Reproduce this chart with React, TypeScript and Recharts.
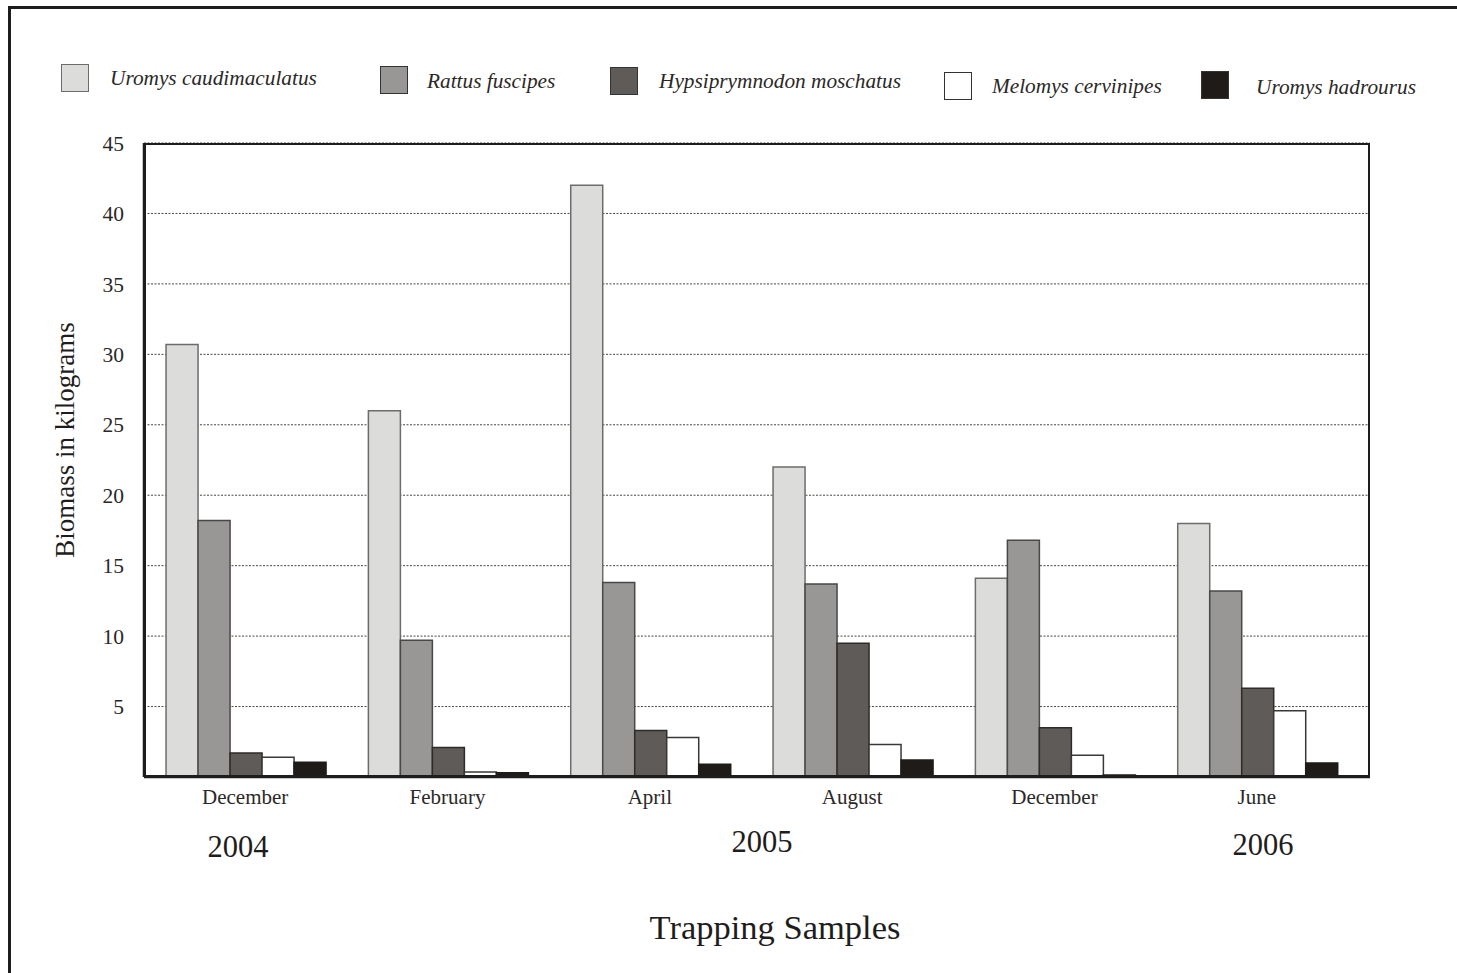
import { Bar, BarChart, CartesianGrid, Legend, XAxis, YAxis } from "recharts";

const months = ["December", "February", "April", "August", "December", "June"];
const uromysCaudimaculatus = [30.7, 26.0, 42.0, 22.0, 14.1, 18.0];
const rattusFuscipes = [18.2, 9.7, 13.8, 13.7, 16.8, 13.2];
const hypsiprymnodonMoschatus = [1.7, 2.1, 3.3, 9.5, 3.5, 6.3];
const melomysCervinipes = [1.4, 0.35, 2.8, 2.3, 1.55, 4.7];
const uromysHadrourus = [1.05, 0.3, 0.9, 1.2, 0.15, 1.0];
const yTicks = [5, 10, 15, 20, 25, 30, 35, 40, 45];
const years = ["2004", "2005", "2006"];

const seriesList = [
  { key: "uc", name: "Uromys caudimaculatus", values: uromysCaudimaculatus, fill: "#dcdcdb", stroke: "#6e6c6a" },
  { key: "rf", name: "Rattus fuscipes", values: rattusFuscipes, fill: "#989796", stroke: "#4a4846" },
  { key: "hm", name: "Hypsiprymnodon moschatus", values: hypsiprymnodonMoschatus, fill: "#5f5b59", stroke: "#2e2b29" },
  { key: "mc", name: "Melomys cervinipes", values: melomysCervinipes, fill: "#ffffff", stroke: "#3a3836" },
  { key: "uh", name: "Uromys hadrourus", values: uromysHadrourus, fill: "#1f1b19", stroke: "#1f1b19" }
];

const data = months.map((month, i) => {
  const row: Record<string, string | number> = { month };
  seriesList.forEach((s) => {
    row[s.key] = s.values[i];
  });
  return row;
});

// legend placement copied from the figure (squares are staggered)
const legendSpots = [
  { box: [61, 64], text: [110, 78] },
  { box: [380, 66], text: [427, 81] },
  { box: [610, 67], text: [659, 81] },
  { box: [944, 72], text: [992, 86] },
  { box: [1201, 71], text: [1256, 87] }
];

const yearSpots = [
  { x: 238, y: 847 },
  { x: 762, y: 842 },
  { x: 1263, y: 845 }
];

const serif = '"Liberation Serif", "Times New Roman", serif';

function StaggeredLegend() {
  // zero height so the chart does not reserve room for it
  return (
    <div style={{ position: "relative", width: 1457, height: 0, overflow: "visible" }}>
      {seriesList.map((s, i) => (
        <div key={s.key}>
          <div
            style={{
              position: "absolute",
              left: legendSpots[i].box[0],
              top: legendSpots[i].box[1],
              width: 26,
              height: 26,
              background: s.fill,
              border: `1.5px solid ${s.key === "uc" ? "#6e6c6a" : "#333"}`
            }}
          />
          <div
            style={{
              position: "absolute",
              left: legendSpots[i].text[0],
              top: legendSpots[i].text[1] - 13,
              fontFamily: serif,
              fontStyle: "italic",
              fontSize: 21.3,
              color: "#2a2826",
              whiteSpace: "nowrap",
              lineHeight: "26px"
            }}
          >
            {s.name}
          </div>
        </div>
      ))}
    </div>
  );
}

export default function App() {
  return (
    <div
      style={{
        position: "absolute",
        left: 0,
        top: 0,
        width: 1457,
        height: 973,
        background: "#fff",
        overflow: "hidden",
        fontFamily: serif
      }}
    >
      <div
        style={{
          position: "absolute",
          left: 8,
          top: 6,
          width: 1460,
          height: 980,
          borderLeft: "3px solid #1f1d1b",
          borderTop: "3px solid #1f1d1b"
        }}
      />
      <BarChart
        width={1457}
        height={973}
        data={data}
        margin={{ top: 143, right: 87, bottom: 166, left: 84 }}
        barCategoryGap="10.9%"
        barGap={0}
      >
        <CartesianGrid vertical={false} stroke="#4a4846" strokeDasharray="2 1.5" strokeWidth={1} />
        <XAxis
          dataKey="month"
          height={30}
          padding={{ left: 0, right: 12 }}
          tickLine={false}
          axisLine={{ stroke: "#1f1d1b", strokeWidth: 2.5 }}
          tickMargin={6}
          tick={{ fill: "#2a2826", fontSize: 21, fontFamily: serif }}
        />
        <YAxis
          width={60}
          domain={[0, 45]}
          ticks={yTicks}
          interval={0}
          tickLine={false}
          axisLine={{ stroke: "#1f1d1b", strokeWidth: 2.5 }}
          tickMargin={14}
          tick={{ fill: "#2a2826", fontSize: 21.5, fontFamily: serif }}
        />
        <Legend
          verticalAlign="top"
          wrapperStyle={{ position: "absolute", left: 0, top: 0, width: 1457, height: 0 }}
          content={() => <StaggeredLegend />}
        />
        {seriesList.map((s) => (
          <Bar
            key={s.key}
            dataKey={s.key}
            name={s.name}
            fill={s.fill}
            stroke={s.stroke}
            strokeWidth={1.5}
            isAnimationActive={false}
          />
        ))}
      </BarChart>
      <div
        style={{
          position: "absolute",
          left: 144,
          top: 143,
          width: 1226,
          height: 634,
          boxSizing: "border-box",
          border: "2.5px solid #1f1d1b",
          pointerEvents: "none"
        }}
      />
      {years.map((y, i) => (
        <div
          key={y}
          style={{
            position: "absolute",
            left: yearSpots[i].x - 60,
            top: yearSpots[i].y - 18,
            width: 120,
            textAlign: "center",
            fontSize: 30.5,
            lineHeight: "36px",
            color: "#1f1d1b"
          }}
        >
          {y}
        </div>
      ))}
      <div
        style={{
          position: "absolute",
          left: 525,
          top: 906,
          width: 500,
          textAlign: "center",
          fontSize: 34.5,
          lineHeight: "42px",
          color: "#1f1d1b"
        }}
      >
        Trapping Samples
      </div>
      <div
        style={{
          position: "absolute",
          left: 65 - 150,
          top: 440 - 16,
          width: 300,
          height: 32,
          lineHeight: "32px",
          textAlign: "center",
          fontSize: 27,
          color: "#1f1d1b",
          transform: "rotate(-90deg)",
          whiteSpace: "nowrap"
        }}
      >
        Biomass in kilograms
      </div>
    </div>
  );
}
